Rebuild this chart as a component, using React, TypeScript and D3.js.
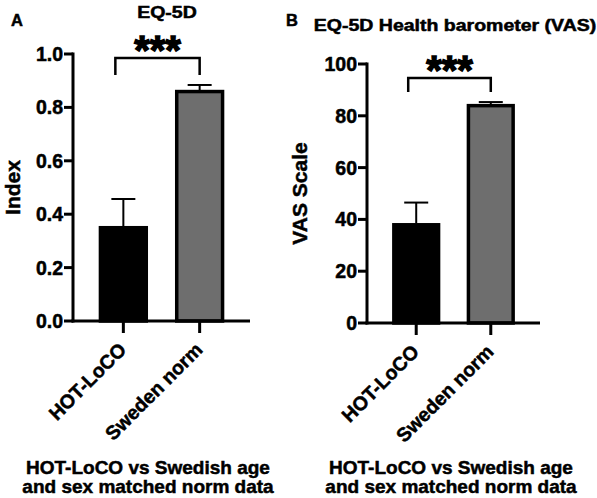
import React from "react";
import * as d3 from "d3";

const categories = ["HOT-LoCO", "Sweden norm"];
const indexMeans = [0.355, 0.865];
const indexErrors = [0.102, 0.019];
const indexTicks = [0, 0.2, 0.4, 0.6, 0.8, 1.0];
const vasMeans = [38.5, 84.5];
const vasErrors = [8, 0.8];
const vasTicks = [0, 20, 40, 60, 80, 100];
const barColors = ["#000000", "#6e6e6e"];
const captionLines = ["HOT-LoCO vs Swedish age", "and sex matched norm data"];

const FONT = "'Liberation Sans', Arial, Helvetica, sans-serif";
const TS = 0.5; // text stroke for heavier look

type PanelProps = {
  letter: string;
  letterX: number;
  title: string;
  titleX: number;
  titleY: number;
  yLabel: string;
  yLabelX: number;
  means: number[];
  errors: number[];
  ticks: number[];
  fmt: (v: number) => string;
  domainMax: number;
  x0: number;
  x1: number;
  yTop: number;
  yBottom: number;
  bracketY: number;
  bracketDrop: number;
  captionX: number;
};

function Panel(p: PanelProps) {
  const x = d3
    .scaleBand<string>()
    .domain(categories)
    .range([p.x0, p.x1])
    .paddingInner(0.36)
    .paddingOuter(0.34);
  const y = d3.scaleLinear().domain([0, p.domainMax]).range([p.yBottom, p.yTop]);
  const bw = x.bandwidth();
  const cx = (c: string) => (x(c) as number) + bw / 2;
  const c1 = cx(categories[0]);
  const c2 = cx(categories[1]);
  return (
    <g fontFamily={FONT} fontWeight="bold" fill="#000" stroke="#000" strokeWidth={TS}>
      <text x={p.letterX} y={26} fontSize={16.5}>
        {p.letter}
      </text>
      <text
        transform={`translate(${p.titleX},${p.titleY}) scale(1.22,1)`}
        fontSize={16}
        textAnchor="middle"
      >
        {p.title}
      </text>
      {/* bars */}
      {categories.map((c, i) => (
        <g key={c}>
          <line
            x1={cx(c)}
            x2={cx(c)}
            y1={y(p.means[i])}
            y2={y(p.means[i] + p.errors[i])}
            stroke="#000"
            strokeWidth={2}
          />
          <line
            x1={cx(c) - 12}
            x2={cx(c) + 12}
            y1={y(p.means[i] + p.errors[i])}
            y2={y(p.means[i] + p.errors[i])}
            stroke="#000"
            strokeWidth={2}
          />
          <rect
            x={(x(c) as number) + 1.5}
            y={y(p.means[i]) + 1.5}
            width={bw - 3}
            height={y(0) - y(p.means[i]) - 1.5}
            fill={barColors[i]}
            stroke="#000"
            strokeWidth={3.5}
          />
        </g>
      ))}
      {/* y axis */}
      <line x1={p.x0} x2={p.x0} y1={p.yTop - 1.5} y2={p.yBottom + 1.5} stroke="#000" strokeWidth={3} />
      {p.ticks.map((t) => (
        <g key={t}>
          <line x1={p.x0 - 9} x2={p.x0} y1={y(t)} y2={y(t)} stroke="#000" strokeWidth={3} />
          <text x={p.x0 - 10} y={y(t)} dy="0.36em" fontSize={19.5} textAnchor="end">
            {p.fmt(t)}
          </text>
        </g>
      ))}
      <text
        transform={`translate(${p.yLabelX},${(p.yTop + p.yBottom) / 2}) rotate(-90)`}
        fontSize={21}
        textAnchor="middle"
      >
        {p.yLabel}
      </text>
      {/* x axis */}
      <line x1={p.x0 - 1.5} x2={p.x1} y1={p.yBottom} y2={p.yBottom} stroke="#000" strokeWidth={3} />
      {categories.map((c) => (
        <g key={c}>
          <line x1={cx(c)} x2={cx(c)} y1={p.yBottom} y2={p.yBottom + 12} stroke="#000" strokeWidth={3} />
          <text
            transform={`translate(${cx(c) + 4},${p.yBottom + 30}) rotate(-45)`}
            fontSize={19.5}
            textAnchor="end"
          >
            {c}
          </text>
        </g>
      ))}
      {/* bracket */}
      <path
        d={`M${c1 - 8},${p.bracketY + p.bracketDrop}V${p.bracketY}H${c2}V${p.bracketY + p.bracketDrop}`}
        fill="none"
        stroke="#000"
        strokeWidth={2.5}
      />
      <text
        x={(c1 - 8 + c2) / 2}
        y={p.bracketY + 6}
        fontSize={40}
        textAnchor="middle"
        strokeWidth={1.4}
      >
        ***
      </text>
      {/* caption */}
      {captionLines.map((l, i) => (
        <text key={l} x={p.captionX} y={474 + i * 19} fontSize={19} textAnchor="middle">
          {l}
        </text>
      ))}
    </g>
  );
}

export default function App() {
  return (
    <svg
      width={597}
      height={498}
      style={{ position: "absolute", left: 0, top: 0, background: "#fff" }}
    >
      <rect width={597} height={498} fill="#fff" />
      <Panel
        letter="A"
        letterX={11}
        title="EQ-5D"
        titleX={167}
        titleY={18}
        yLabel="Index"
        yLabelX={20}
        means={indexMeans}
        errors={indexErrors}
        ticks={indexTicks}
        fmt={d3.format(".1f")}
        domainMax={1}
        x0={73}
        x1={250}
        yTop={54}
        yBottom={321}
        bracketY={58}
        bracketDrop={17}
        captionX={148}
      />
      <Panel
        letter="B"
        letterX={286}
        title="EQ-5D Health barometer (VAS)"
        titleX={455}
        titleY={31}
        yLabel="VAS Scale"
        yLabelX={307}
        means={vasMeans}
        errors={vasErrors}
        ticks={vasTicks}
        fmt={d3.format("d")}
        domainMax={100}
        x0={367}
        x1={540}
        yTop={64}
        yBottom={323}
        bracketY={78}
        bracketDrop={14}
        captionX={451}
      />
    </svg>
  );
}
